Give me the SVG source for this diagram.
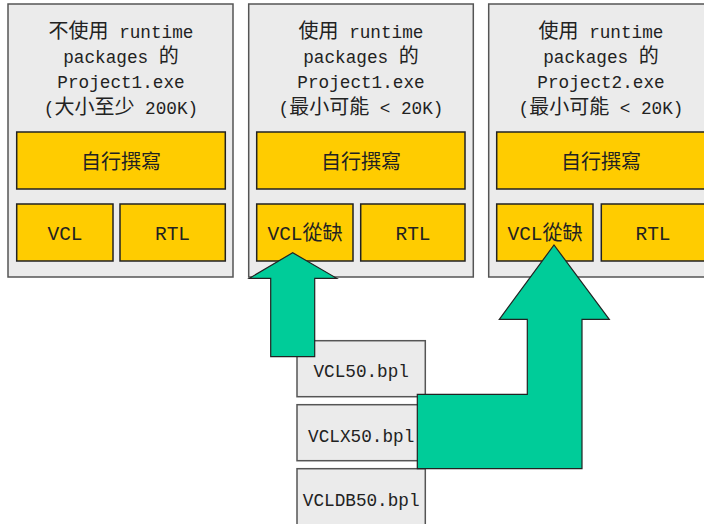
<svg xmlns="http://www.w3.org/2000/svg" width="704" height="524" viewBox="0 0 704 524">
<style>
.box{fill:#ebebeb;stroke:#555;stroke-width:1.5}
.y{fill:#ffcc00;stroke:#222;stroke-width:1.5}
.arrow{fill:#00cc99;stroke:#222;stroke-width:1.2}
text{font-family:"Liberation Mono","Noto Sans CJK TC",monospace;font-size:17.7px;fill:#222;text-anchor:middle}
.cjk{font-family:"Noto Sans CJK TC",sans-serif;font-size:20px}
.lbl{font-size:19.5px}
</style>
<rect width="704" height="524" fill="#ffffff"/>
<g id="exe1">
<rect class="box" x="8" y="4" width="225" height="273"/>
<text x="121" y="38"><tspan class="cjk">不使用</tspan> runtime</text>
<text x="121" y="63">packages <tspan class="cjk">的</tspan></text>
<text x="121" y="88">Project1.exe</text>
<text x="121" y="114">(<tspan class="cjk">大小至少</tspan> 200K)</text>
<rect class="y" x="16.7" y="132" width="208.6" height="57"/>
<text class="cjk" x="121" y="169">自行撰寫</text>
<rect class="y" x="16.7" y="204" width="96.3" height="57"/>
<text class="lbl" x="65" y="240">VCL</text>
<rect class="y" x="120" y="204" width="105.3" height="57"/>
<text class="lbl" x="172.5" y="240">RTL</text>
</g>
<g id="exe2">
<rect class="box" x="248.7" y="4" width="224.6" height="273"/>
<text x="361" y="38"><tspan class="cjk">使用</tspan> runtime</text>
<text x="361" y="63">packages <tspan class="cjk">的</tspan></text>
<text x="361" y="88">Project1.exe</text>
<text x="361" y="114">(<tspan class="cjk">最小可能</tspan> &lt; 20K)</text>
<rect class="y" x="256.7" y="132" width="208.3" height="57"/>
<text class="cjk" x="361" y="169">自行撰寫</text>
<rect class="y" x="256.7" y="204" width="96.3" height="57"/>
<text class="lbl" x="305" y="240">VCL<tspan class="cjk">從缺</tspan></text>
<rect class="y" x="360.7" y="204" width="104.3" height="57"/>
<text class="lbl" x="413" y="240">RTL</text>
</g>
<g id="exe3">
<rect class="box" x="488.7" y="4" width="224.6" height="273"/>
<text x="601" y="38"><tspan class="cjk">使用</tspan> runtime</text>
<text x="601" y="63">packages <tspan class="cjk">的</tspan></text>
<text x="601" y="88">Project2.exe</text>
<text x="601" y="114">(<tspan class="cjk">最小可能</tspan> &lt; 20K)</text>
<rect class="y" x="496.7" y="132" width="216" height="57"/>
<text class="cjk" x="601" y="169">自行撰寫</text>
<rect class="y" x="496.7" y="204" width="96.3" height="57"/>
<text class="lbl" x="545" y="240">VCL<tspan class="cjk">從缺</tspan></text>
<rect class="y" x="601.3" y="204" width="112" height="57"/>
<text class="lbl" x="653" y="240">RTL</text>
</g>
<g id="vcl50">
<rect class="box" x="297" y="340.7" width="128.3" height="56"/>
<text x="361.2" y="377">VCL50.bpl</text>
</g>
<g id="vclx50">
<rect class="box" x="297" y="404.7" width="128.3" height="56"/>
<text x="361.2" y="441.5">VCLX50.bpl</text>
</g>
<g id="vcldb50">
<rect class="box" x="297" y="468.7" width="128.3" height="60"/>
<text x="361.2" y="505.5">VCLDB50.bpl</text>
</g>
<g id="connectors">
<polygon class="arrow" points="270.7,356.7 270.7,278.3 249.3,278.3 292.7,252.7 336.7,278.3 314.7,278.3 314.7,356.7"/>
<polygon class="arrow" points="417.3,394.3 527.3,394.3 527.3,319.3 499.3,319.3 554,245 609.3,319.3 582,319.3 582,468.7 417.3,468.7"/>
</g>
</svg>
